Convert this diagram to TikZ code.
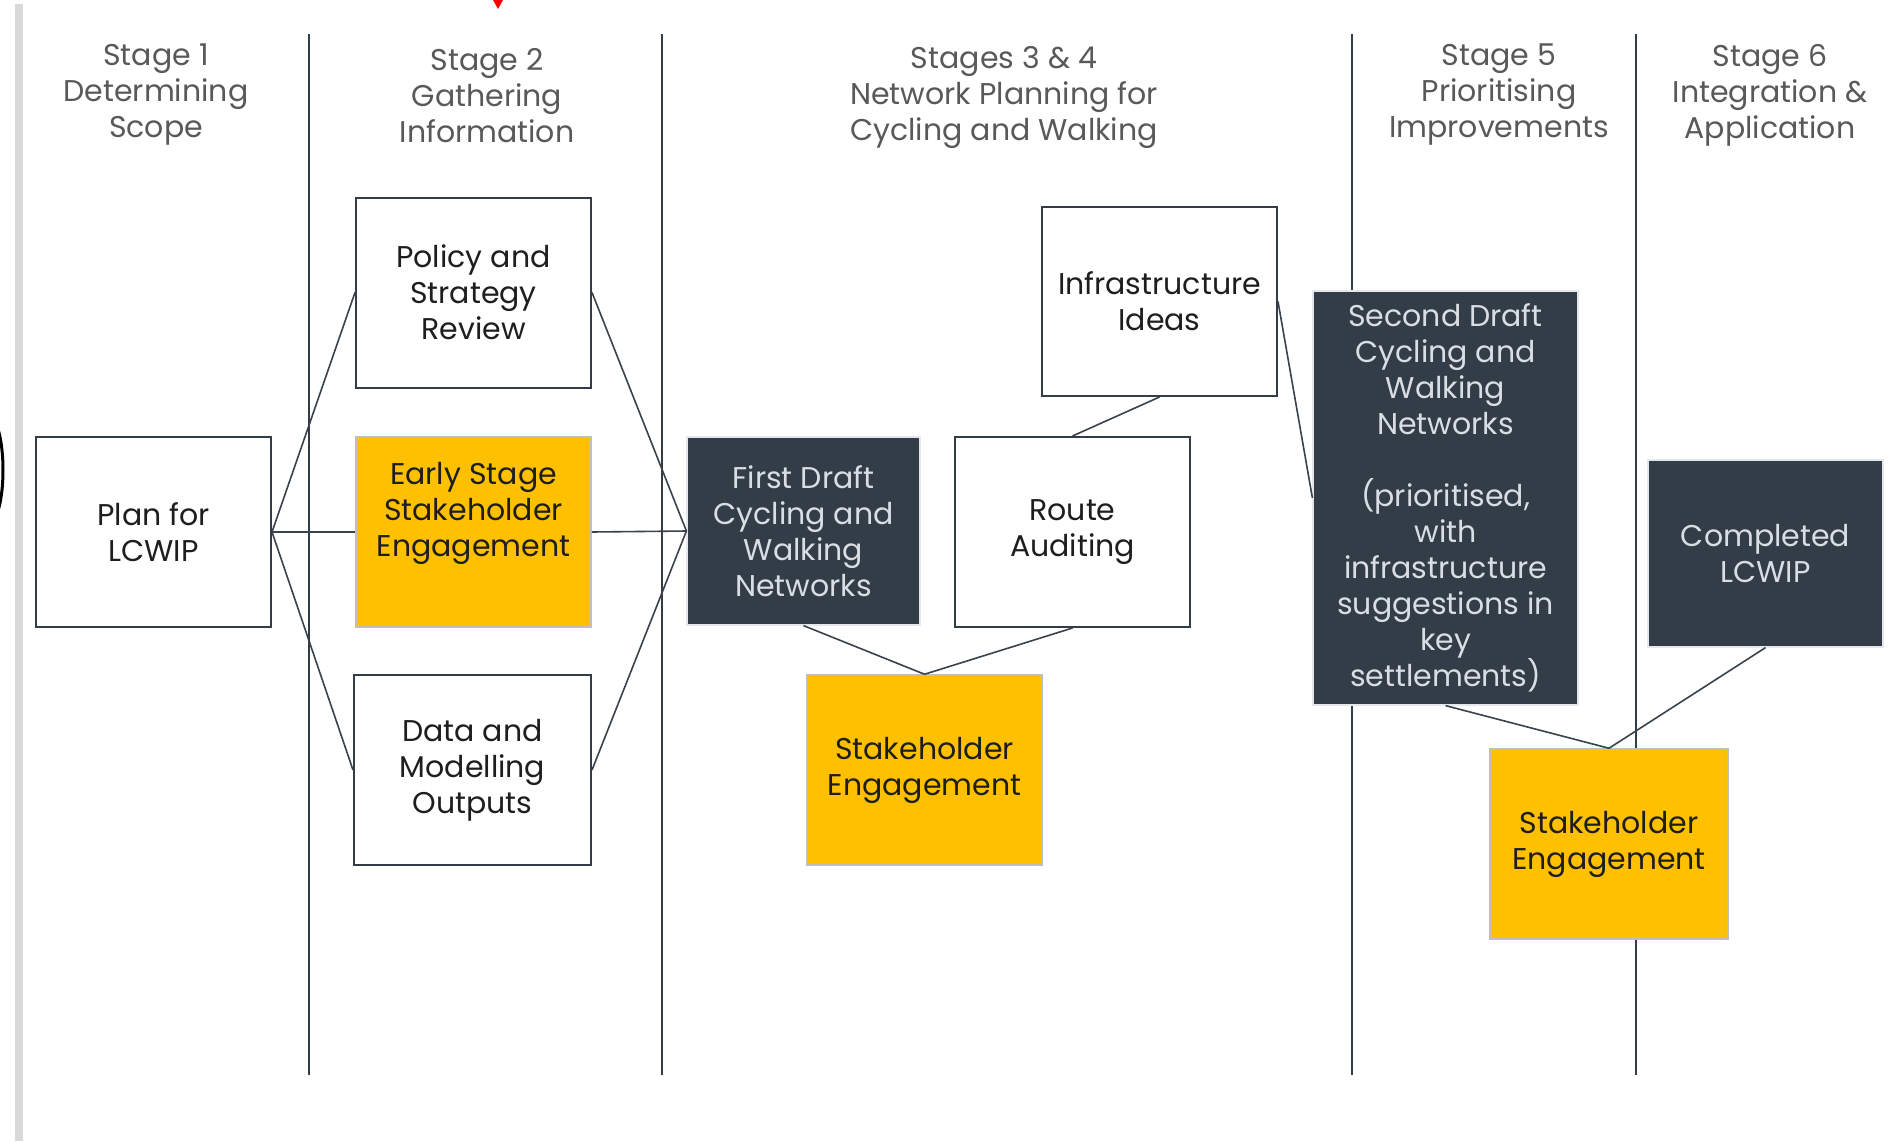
\documentclass[tikz,border=0pt]{standalone}
\usepackage{fontspec}
\setmainfont{Poppins}
\definecolor{darkbox}{HTML}{333D47}
\definecolor{ylw}{HTML}{FFC000}
\definecolor{hdr}{HTML}{58595B}
\definecolor{txt}{HTML}{1E1E1E}
\definecolor{lighttxt}{HTML}{D8DEE4}
\definecolor{linec}{HTML}{3A424B}
\tikzset{
  base/.style={rectangle, inner sep=0pt, align=center, font=\fontsize{30}{36}\selectfont},
  whitebox/.style={base, draw=darkbox, line width=2pt, fill=white, text=txt},
  yellowbox/.style={base, draw=black!25, line width=1.5pt, fill=ylw, text=txt},
  darkbox/.style={base, draw=lighttxt!70, line width=1.2pt, fill=darkbox, text=lighttxt},
  header/.style={inner sep=0pt, align=center, text=hdr, font=\fontsize{30}{36}\selectfont},
  conn/.style={draw=linec, line width=1.6pt},
  stageline/.style={draw=darkbox, line width=1.8pt}
}
\begin{document}
\begin{tikzpicture}[x=1pt,y=-1pt]
\useasboundingbox[fill=white] (0,0) rectangle (1900,1141);
% left artifacts
\fill[black!15] (15,4) rectangle (23,1141);
\draw[black, line width=3pt] (-3,426) .. controls (5,448) and (5,492) .. (-3,514);
\fill[red] (493,0) -- (503,0) -- (498,9) -- cycle;
% stage separators
\coordinate (l1t) at (309,34); \coordinate (l1b) at (309,1075);
\coordinate (l2t) at (662,34); \coordinate (l2b) at (662,1075);
\coordinate (l3t) at (1352,34); \coordinate (l3b) at (1352,1075);
\coordinate (l4t) at (1636,34); \coordinate (l4b) at (1636,1075);
\draw[stageline] (l1t) -- (l1b);
\draw[stageline] (l2t) -- (l2b);
\draw[stageline] (l3t) -- (l3b);
\draw[stageline] (l4t) -- (l4b);
% headers
\node[header] (h1) at (156,95) {Stage 1\\Determining\\Scope};
\node[header] (h2) at (487,96) {Stage 2\\Gathering\\Information};
\node[header] (h3) at (1004,97) {Stages 3 \& 4\\Network Planning for\\Cycling and Walking};
\node[header] (h4) at (1499,95) {Stage 5\\Prioritising\\Improvements};
\node[header] (h5) at (1770,95) {Stage 6\\Integration \&\\Application};
% boxes
\node[whitebox, minimum width=235pt, minimum height=190pt] (plan) at (153.5,532) {Plan for\\LCWIP};
\node[whitebox, minimum width=235pt, minimum height=190pt] (policy) at (473.5,292.5) {Policy and\\Strategy\\Review};
\node[yellowbox, minimum width=235pt, minimum height=190pt, text depth=46pt] (early) at (473.5,532) {Early Stage\\Stakeholder\\Engagement};
\node[whitebox, minimum width=237pt, minimum height=190pt] (data) at (472.5,770) {Data and\\Modelling\\Outputs};
\node[darkbox, minimum width=233pt, minimum height=188pt] (first) at (803.5,531) {First Draft\\Cycling and\\Walking\\Networks};
\node[whitebox, minimum width=235pt, minimum height=190pt] (route) at (1072.5,532) {Route\\Auditing};
\node[whitebox, minimum width=235pt, minimum height=189pt] (infra) at (1159.5,301.5) {Infrastructure\\Ideas};
\node[yellowbox, minimum width=235pt, minimum height=190pt] (se1) at (924.5,770) {Stakeholder\\Engagement};
\node[darkbox, minimum width=265pt, minimum height=414pt] (second) at (1445.5,498) {Second Draft\\Cycling and\\Walking\\Networks\\[36pt](prioritised,\\with\\infrastructure\\suggestions in\\key\\settlements)};
\node[darkbox, minimum width=235pt, minimum height=187pt] (done) at (1765.5,553.5) {Completed\\LCWIP};
\node[yellowbox, minimum width=238pt, minimum height=190pt] (se2) at (1609,844) {Stakeholder\\Engagement};
% connectors
\draw[conn] (plan.east) -- (policy.west);
\draw[conn] (plan.east) -- (early.west);
\draw[conn] (plan.east) -- (data.west);
\draw[conn] (policy.east) -- (first.west);
\draw[conn] (early.east) -- (first.west);
\draw[conn] (data.east) -- (first.west);
\draw[conn] (first.south) -- (se1.north);
\draw[conn] (route.south) -- (se1.north);
\draw[conn] (infra.south) -- (route.north);
\draw[conn] (infra.east) -- (second.west);
\draw[conn] (second.south) -- (se2.north);
\draw[conn] (done.south) -- (se2.north);
\end{tikzpicture}
\end{document}
